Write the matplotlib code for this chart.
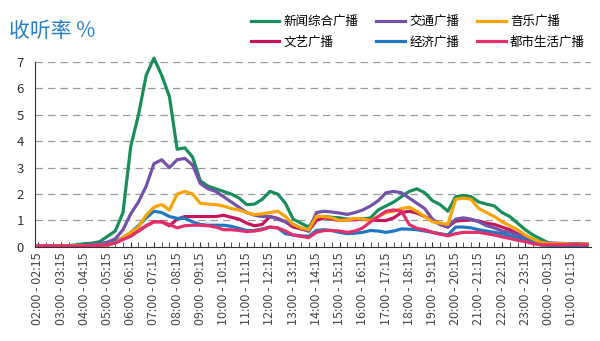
import numpy as np
import matplotlib
matplotlib.use('Agg')
from matplotlib import pyplot as plt

plt.rcParams['font.family'] = ['Noto Sans CJK SC', 'DejaVu Sans']

#hour labels, one label every third point
hours = ['02','03','04','05','06','07','08','09','10','11','12','13',
         '14','15','16','17','18','19','20','21','22','23','00','01']
tick_labels = [h+':00 - '+h+':15' for h in hours]

names = ['新闻综合广播','文艺广播','交通广播','经济广播','音乐广播','都市生活广播']
colors = ['#1b8c5c','#c2185b','#7352a8','#1f78c0','#f7a300','#e2306c']

news = [0.02,0.02,0.02,0.03,0.05,0.08,0.12,0.14,0.2,0.4,
        0.6,1.3,3.8,5.0,6.5,7.15,6.5,5.7,3.7,3.75,
        3.4,2.5,2.3,2.2,2.1,2.0,1.85,1.6,1.62,1.8,
        2.1,2.0,1.65,1.05,0.9,0.75,1.15,1.15,1.12,1.1,
        1.05,1.05,1.05,1.1,1.4,1.55,1.7,1.9,2.1,2.2,
        2.05,1.75,1.6,1.35,1.9,1.95,1.9,1.7,1.62,1.55,
        1.3,1.15,0.9,0.65,0.45,0.3,0.15,0.12,0.12,0.1,
        0.1,0.08]
arts = [0.03,0.03,0.03,0.03,0.03,0.03,0.04,0.05,0.06,0.08,
        0.15,0.3,0.45,0.6,0.8,0.95,0.95,0.8,1.05,1.15,
        1.15,1.15,1.15,1.15,1.2,1.12,1.05,0.9,0.8,0.85,
        1.15,1.08,0.95,0.75,0.68,0.6,1.0,1.1,1.05,1.0,
        1.02,1.03,1.05,1.02,1.0,1.0,1.1,1.3,1.35,1.28,
        1.15,1.0,0.85,0.75,0.98,1.0,1.02,0.98,0.9,0.85,
        0.75,0.65,0.5,0.4,0.25,0.15,0.12,0.1,0.1,0.1,
        0.1,0.1]
traffic = [0.03,0.03,0.03,0.03,0.04,0.05,0.06,0.08,0.12,0.18,
           0.3,0.65,1.25,1.7,2.3,3.15,3.3,3.0,3.3,3.35,
           3.1,2.4,2.2,2.1,1.9,1.7,1.5,1.3,1.2,1.15,
           1.15,1.05,0.95,0.85,0.72,0.6,1.3,1.35,1.32,1.28,
           1.23,1.3,1.4,1.55,1.75,2.05,2.1,2.05,1.85,1.65,
           1.45,1.05,0.85,0.75,1.05,1.1,1.05,0.95,0.8,0.72,
           0.6,0.55,0.45,0.35,0.25,0.18,0.15,0.14,0.13,0.12,
           0.12,0.1]
economy = [0.02,0.02,0.02,0.02,0.03,0.03,0.04,0.05,0.07,0.1,
           0.2,0.35,0.55,0.8,1.1,1.35,1.3,1.15,1.08,1.08,
           0.95,0.85,0.82,0.82,0.82,0.78,0.7,0.62,0.62,0.68,
           0.75,0.72,0.5,0.45,0.42,0.4,0.62,0.65,0.62,0.55,
           0.5,0.52,0.55,0.62,0.6,0.55,0.6,0.68,0.67,0.65,
           0.6,0.55,0.5,0.45,0.75,0.75,0.72,0.65,0.6,0.55,
           0.5,0.42,0.35,0.25,0.18,0.08,0.05,0.04,0.04,0.04,
           0.04,0.04]
music = [0.02,0.02,0.02,0.03,0.03,0.04,0.05,0.05,0.06,0.08,
         0.15,0.35,0.55,0.75,1.2,1.5,1.6,1.4,2.0,2.1,
         2.0,1.65,1.62,1.6,1.55,1.45,1.4,1.3,1.22,1.25,
         1.3,1.35,1.15,0.85,0.72,0.65,1.15,1.15,1.1,1.0,
         1.02,1.08,1.05,1.0,1.15,1.3,1.35,1.45,1.5,1.35,
         1.15,0.95,0.9,0.85,1.8,1.85,1.8,1.45,1.3,1.15,
         0.95,0.8,0.65,0.45,0.3,0.18,0.12,0.12,0.12,0.1,
         0.1,0.1]
city = [0.03,0.03,0.03,0.03,0.03,0.03,0.04,0.05,0.06,0.08,
        0.15,0.28,0.4,0.6,0.8,0.95,0.95,0.85,0.72,0.8,
        0.82,0.82,0.8,0.75,0.65,0.65,0.62,0.58,0.6,0.65,
        0.75,0.72,0.6,0.45,0.4,0.35,0.55,0.62,0.62,0.6,
        0.55,0.6,0.72,0.95,1.15,1.35,1.4,1.35,0.85,0.7,
        0.65,0.55,0.48,0.42,0.5,0.55,0.55,0.55,0.5,0.45,
        0.38,0.32,0.25,0.2,0.12,0.08,0.08,0.08,0.08,0.08,
        0.08,0.08]

series = [news,arts,traffic,economy,music,city]

fig = plt.figure(figsize=(6,3.41),dpi=100)
ax = fig.add_axes([0.058,0.276,0.927,0.542])

x = np.arange(len(news))
for vals,name,c in zip(series,names,colors):
    ax.plot(x,vals,color=c,lw=2.3,label=name,clip_on=False,solid_joinstyle='round')

ax.set_ylim(0,7)
ax.set_xlim(-0.4,71.5)
ax.set_yticks(range(8))
ax.set_xticks(np.arange(0,72,3))
ax.set_xticklabels(tick_labels,rotation=90,fontsize=9,color='#444444')
ax.set_xticks(np.arange(0,72),minor=True)
ax.tick_params(axis='x',which='both',direction='in',length=3.5,color='#333333',pad=4)
ax.tick_params(axis='y',length=0,labelsize=9.5,colors='#333333',pad=8)
ax.grid(axis='y',ls=(0,(6,4)),color='#999999',lw=0.9)
ax.set_axisbelow(True)
for s in ['top','right']:
    ax.spines[s].set_visible(False)
ax.spines['left'].set_color('#333333')
ax.spines['bottom'].set_color('#333333')

fig.text(0.015,0.91,'收听率 %',fontsize=15,color='#2a7fc0',va='center')

fig.legend(loc='upper left',bbox_to_anchor=(0.405,0.978),ncol=3,frameon=False,
           fontsize=9,handlelength=2.3,columnspacing=1.4,labelspacing=0.62,
           handletextpad=0.35,borderaxespad=0.2)

fig.savefig('out.png',dpi=100)
